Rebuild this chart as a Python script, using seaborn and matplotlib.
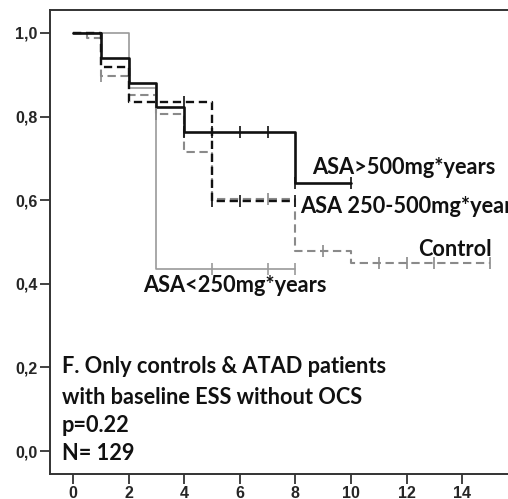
import numpy as np
import pandas as pd
import seaborn as sns
import matplotlib.pyplot as plt

# Kaplan-Meier style step curves
# ASA > 500 mg*years
t_hi = [0, 1, 2, 3, 4, 8, 10]
s_hi = [1.0, 0.94, 0.88, 0.822, 0.763, 0.64, 0.64]
c_hi = [4, 5, 6, 7, 8, 10]

# ASA 250-500 mg*years
t_mid = [0, 1, 2, 5, 8]
s_mid = [1.0, 0.918, 0.834, 0.597, 0.597]
c_mid = [4, 5, 6, 8]

# ASA < 250 mg*years
t_lo = [0, 2, 3, 8]
s_lo = [1.0, 0.869, 0.435, 0.435]
c_lo = [5, 7, 8]

# Control
t_ctl = [0, 0.5, 1, 2, 3, 4, 5, 8, 10, 15]
s_ctl = [1.0, 0.987, 0.896, 0.852, 0.806, 0.715, 0.603, 0.479, 0.449, 0.449]
c_ctl = [1, 3, 7, 9, 11, 12, 13, 15]

xticks = [0, 2, 4, 6, 8, 10, 12, 14]
yticks = [0.0, 0.2, 0.4, 0.6, 0.8, 1.0]

sns.set_style("white")
plt.rcParams['font.family'] = ['Liberation Sans', 'DejaVu Sans']

fig = plt.figure(figsize=(5.08, 4.99), dpi=100)
ax = fig.add_axes([50 / 508, 25 / 499, 465 / 508, 464 / 499])


def step_value(t, s, x):
    i = np.searchsorted(t, x, side='right') - 1
    return s[i]


groups = [
    (t_ctl, s_ctl, c_ctl, '#8a8a8a', (0, (4, 2.2)), 1.5),
    (t_lo, s_lo, c_lo, '#9a9a9a', '-', 1.2),
    (t_mid, s_mid, c_mid, '#111111', (0, (3.5, 2)), 1.7),
    (t_hi, s_hi, c_hi, '#111111', '-', 1.9),
]

for t, s, cens, col, ls, lw in groups:
    df = pd.DataFrame({'time': t, 'surv': s})
    sns.lineplot(data=df, x='time', y='surv', ax=ax, estimator=None, sort=False,
                 drawstyle='steps-post', color=col, linestyle=ls, linewidth=lw)
    cdf = pd.DataFrame({'time': cens,
                        'surv': [step_value(t, s, c) for c in cens]})
    sns.scatterplot(data=cdf, x='time', y='surv', ax=ax, marker='|', s=70,
                    color=col, linewidth=1.2, zorder=3)

ax.set_xlim(-0.83, 15.9)
ax.set_ylim(-0.055, 1.055)
ax.set_xticks(xticks)
ax.set_yticks(yticks)
ax.set_xticklabels([str(v) for v in xticks], fontsize=11.5, fontweight='bold')
ax.set_yticklabels([f'{v:.1f}'.replace('.', ',') for v in yticks],
                   fontsize=11.5, fontweight='bold')
ax.tick_params(axis='both', direction='out', length=7, width=1.3,
               color='#333333', pad=2, bottom=True, left=True)
ax.set_xlabel('')
ax.set_ylabel('')
for side in ['left', 'bottom', 'top']:
    ax.spines[side].set_color('#333333')
    ax.spines[side].set_linewidth(1.4)
ax.spines['right'].set_visible(False)

lab = dict(fontsize=15.7, fontweight='bold', family=['Lato', 'DejaVu Sans'],
           color='#111111', va='center', ha='left')
ax.text(8.6, 0.679, 'ASA>500mg*years', **lab)
ax.text(8.17, 0.584, 'ASA 250-500mg*years', clip_on=False, **lab)
ax.text(12.41, 0.481, 'Control', **lab)
ax.text(2.52, 0.397, 'ASA<250mg*years', **lab)

ax.text(-0.4, 0.201, 'F. Only controls & ATAD patients', **lab)
ax.text(-0.4, 0.129, 'with baseline ESS without OCS', **lab)
ax.text(-0.4, 0.062, 'p=0.22', **lab)
ax.text(-0.4, -0.005, 'N= 129', **lab)

fig.savefig('out.png', dpi=100)
